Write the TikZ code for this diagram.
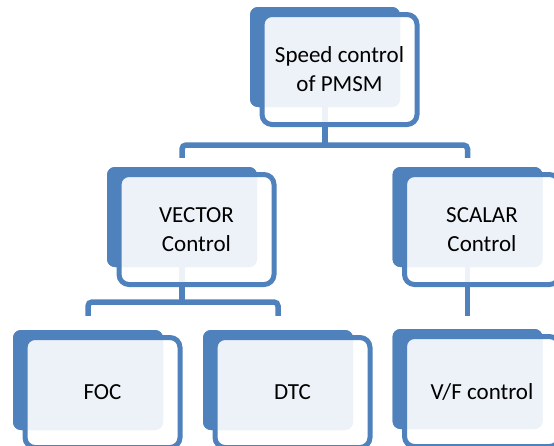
\documentclass[tikz,border=0pt]{standalone}
\usepackage{fontspec}
\setmainfont{Carlito}
\usetikzlibrary{calc}
\definecolor{accent}{HTML}{4F81BD}
\tikzset{
  backbox/.style={rectangle, rounded corners=8pt, fill=accent, minimum width=150pt, minimum height=100pt, inner sep=0pt},
  frontbox/.style={rectangle, rounded corners=10pt, draw=accent, line width=5pt, fill=white, fill opacity=0.9, text opacity=1, minimum width=155pt, minimum height=110pt, inner sep=0pt, align=center, font=\fontsize{23}{29}\selectfont},
  conn/.style={draw=accent, line width=5.5pt, rounded corners=4pt},
}
\begin{document}
\begin{tikzpicture}[x=1pt,y=-1pt]
\useasboundingbox (0,0) rectangle (554,445);
\clip (0,0) rectangle (554,445);
% back boxes
\node[backbox] (topb) at (325,57) {};
\node[backbox] (vecb) at (182,217) {};
\node[backbox] (scab) at (467.5,217) {};
\node[backbox] (focb) at (88,380) {};
\node[backbox] (dtcb) at (278,380) {};
\node[backbox] (vfb)  at (467.5,379) {};
\coordinate (bus1) at (0,145);
\coordinate (bus2) at (0,302);
% connectors
\path[conn] (topb.center) -- (topb.center |- bus1);
\path[conn] ([yshift=9pt]vecb.north) |- (topb.center |- bus1) -| ([yshift=9pt]scab.north);
\path[conn] (vecb.center) -- (vecb.center |- bus2);
\path[conn] ([yshift=14pt]focb.north) |- (vecb.center |- bus2) -| ([yshift=14pt]dtcb.north);
\path[conn] (scab.center) -- ([yshift=13pt]vfb.north);
% back boxes drawn again over the connectors
\node[backbox] at (topb) {};
\node[backbox] at (vecb) {};
\node[backbox] at (scab) {};
\node[backbox] at (focb) {};
\node[backbox] at (dtcb) {};
\node[backbox] at (vfb) {};
% front boxes
\node[frontbox] (topf) at ($(topb)+(14.5,12.5)$) {Speed control\\of PMSM};
\node[frontbox] (vecf) at ($(vecb)+(14.5,12.5)$) {VECTOR\\Control};
\node[frontbox] (scaf) at ($(scab)+(14.5,12.5)$) {SCALAR\\Control};
\node[frontbox] (focf) at ($(focb)+(14.5,12.5)$) {FOC};
\node[frontbox] (dtcf) at ($(dtcb)+(14.5,12.5)$) {DTC};
\node[frontbox] (vff)  at ($(vfb)+(14.5,12.5)$) {V/F control};
\end{tikzpicture}
\end{document}
